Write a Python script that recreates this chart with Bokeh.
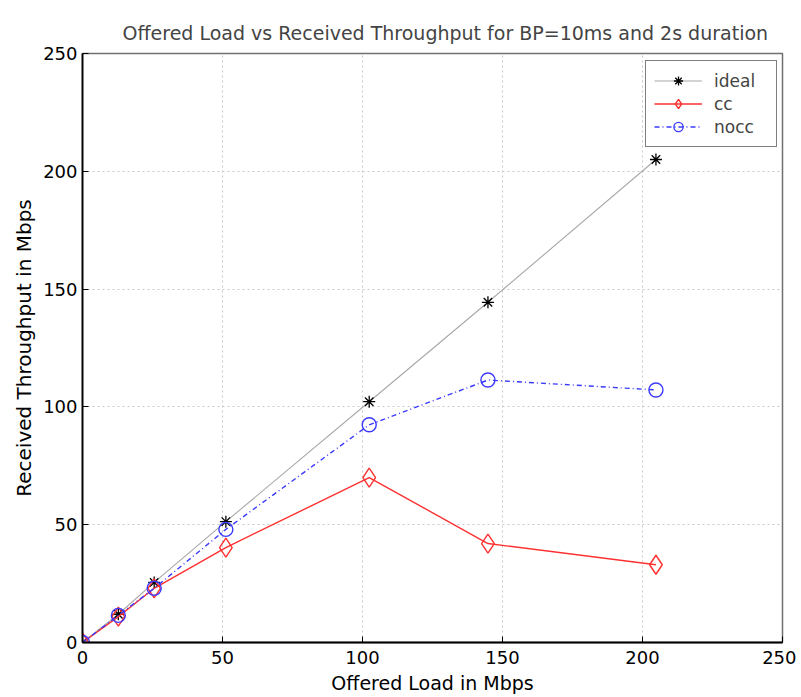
from bokeh.plotting import figure
from bokeh.models import FixedTicker, Range1d, Legend, LegendItem
from bokeh.embed import file_html
from bokeh.resources import INLINE

# Data
offered = [0, 12.8, 25.6, 51.2, 102.4, 144.8, 204.8]
ideal = [0, 12, 25.5, 51.3, 102.2, 144.4, 205]
cc = [0, 11, 23, 40.3, 70, 42, 33]
nocc = [0, 11.5, 23, 48, 92.4, 111.4, 107.2]
ticks = [0, 50, 100, 150, 200, 250]

FONT = "DejaVu Sans"

p = figure(width=796, height=697, output_backend="svg", toolbar_location=None,
           x_range=Range1d(0, 250), y_range=Range1d(0, 250),
           min_border_left=82, min_border_right=14, min_border_top=53, min_border_bottom=55,
           title="Offered Load vs Received Throughput for BP=10ms and 2s duration")
p.title.align = "left"
p.title.offset = 40
p.title.standoff = 19
p.title.text_font = FONT
p.title.text_font_size = "19px"
p.title.text_font_style = "normal"

p.outline_line_color = "#707070"
p.outline_line_width = 1.5

xax = p.xaxis[0]
yax = p.yaxis[0]
for ax in (xax, yax):
    ax.ticker = FixedTicker(ticks=ticks)
    ax.major_tick_in = 6
    ax.major_tick_out = 0
    ax.minor_tick_in = 0
    ax.minor_tick_out = 0
    ax.axis_line_color = "black"
    ax.axis_line_width = 1.8
    ax.major_tick_line_color = "black"
    ax.major_label_text_font = FONT
    ax.major_label_text_font_size = "18px"
    ax.major_label_text_color = "black"
    ax.axis_label_text_font = FONT
    ax.axis_label_text_font_style = "normal"
    ax.axis_label_text_color = "black"

xax.axis_label = "Offered Load in Mbps"
yax.axis_label = "Received Throughput in Mbps"
xax.axis_label_text_font_size = "19px"
yax.axis_label_text_font_size = "20px"
xax.major_label_standoff = 8
yax.major_label_standoff = 5
xax.axis_label_standoff = 5
yax.axis_label_standoff = 4

for grid in (p.xgrid[0], p.ygrid[0]):
    grid.ticker = FixedTicker(ticks=ticks)
    grid.grid_line_color = "#c8c8c8"
    grid.grid_line_dash = "2 3"
    grid.grid_line_width = 1

r_il = p.line(offered, ideal, line_color="#a8a8a8", line_width=1.1)
r_is = p.scatter(offered, ideal, marker="asterisk", size=12, line_color="black", line_width=1.3)
r_cl = p.line(offered, cc, line_color="#ff3030", line_width=1.4)
r_cs = p.scatter(offered, cc, marker="diamond", size=19, line_color="#ff3030", fill_color=None, line_width=1.4)
r_nl = p.line(offered, nocc, line_color="#3a3aff", line_width=1.4, line_dash="5 3 1 3")
r_ns = p.scatter(offered, nocc, marker="circle", size=14, line_color="#3a3aff", fill_color=None, line_width=1.4)

legend = Legend(items=[
    LegendItem(label="ideal", renderers=[r_il, r_is]),
    LegendItem(label="cc", renderers=[r_cl, r_cs]),
    LegendItem(label="nocc", renderers=[r_nl, r_ns]),
], location=(563, 495))
legend.border_line_color = "black"
legend.border_line_width = 1.3
legend.label_text_font = FONT
legend.label_text_font_size = "17px"
legend.glyph_width = 48
legend.glyph_height = 23
legend.label_height = 23
legend.label_width = 54
legend.spacing = 0
legend.padding = 8
legend.label_standoff = 12
legend.margin = 0
p.add_layout(legend, "center")

open("out.html", "w").write(file_html(p, INLINE))
